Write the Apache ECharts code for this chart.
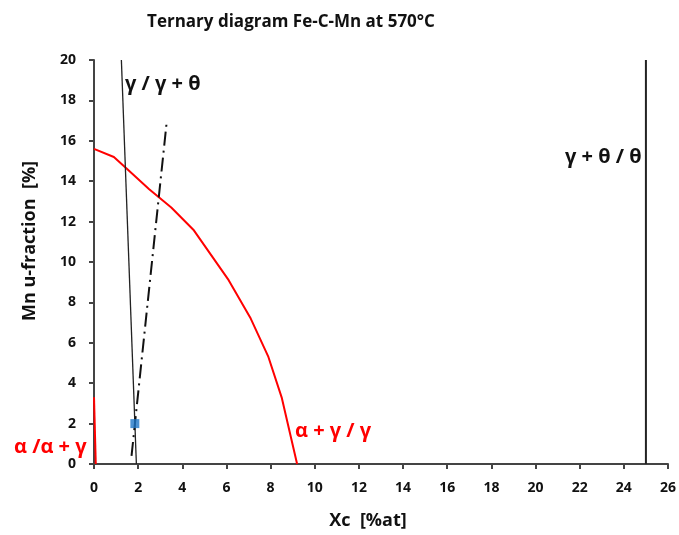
<!DOCTYPE html>
<html><head><meta charset="utf-8">
<script src="https://cdn.jsdelivr.net/npm/echarts@6/dist/echarts.min.js"></script>
<style>html,body{margin:0;padding:0;background:#fff}#c{width:679px;height:535px}</style>
</head><body><div id="c"></div>
<script>
// Data (Xc %at, Mn u-fraction %)
const alphaGammaX = [0, 0.9, 1.5, 2.5, 3.5, 4.5, 6.1, 7.1, 7.9, 8.5, 9.2];
const alphaGammaY = [15.6, 15.2, 14.6, 13.6, 12.7, 11.6, 9.1, 7.2, 5.3, 3.3, 0];
const alphaLimitX = [0, 0.08];
const alphaLimitY = [3.3, 0];
const gammaThetaX = [1.24, 1.92];
const gammaThetaY = [20, 0];
const tieLineX = [1.70, 3.3];
const tieLineY = [0.4, 17];
const thetaX = [25, 25];
const thetaY = [0, 20];
const pointX = [1.85];
const pointY = [2.0];
const xTicks = [0,2,4,6,8,10,12,14,16,18,20,22,24,26];
const yTicks = [0,2,4,6,8,10,12,14,16,18,20];

const zip = (a, b) => a.map((v, i) => [v, b[i]]);
const F = '"Open Sans", sans-serif';
const chart = echarts.init(document.getElementById('c'));
chart.setOption({
  animation: false,
  title: {text: 'Ternary diagram Fe-C-Mn at 570°C', left: 286, top: 9, textAlign: 'center',
    textStyle: {fontFamily: F, fontWeight: 'bold', fontSize: 17, color: '#111'}},
  grid: {left: 94, right: 8, top: 60, bottom: 71},
  xAxis: {type: 'value', min: 0, max: 26, interval: 2,
    axisLine: {lineStyle: {color: '#444', width: 2}},
    axisTick: {show: true, length: 5, lineStyle: {color: '#444', width: 2}},
    axisLabel: {fontFamily: F, fontWeight: 'bold', fontSize: 14, color: '#111', margin: 17,
      formatter: v => xTicks.includes(v) ? String(v) : ''},
    splitLine: {show: false}},
  yAxis: {type: 'value', min: 0, max: 20, interval: 2,
    axisLine: {show: true, lineStyle: {color: '#444', width: 2}},
    axisTick: {show: true, length: 5, lineStyle: {color: '#444', width: 2}},
    axisLabel: {fontFamily: F, fontWeight: 'bold', fontSize: 14, color: '#111', margin: 18,
      formatter: v => yTicks.includes(v) ? String(v) : ''},
    splitLine: {show: false}},
  series: [
    {type: 'line', data: zip(alphaGammaX, alphaGammaY), symbol: 'none',
      lineStyle: {color: '#ff0000', width: 2}},
    {type: 'line', data: zip(alphaLimitX, alphaLimitY), symbol: 'none',
      lineStyle: {color: '#ff0000', width: 2}},
    {type: 'line', data: zip(gammaThetaX, gammaThetaY), symbol: 'none',
      lineStyle: {color: '#222', width: 1.3}},
    {type: 'line', data: zip(tieLineX, tieLineY), symbol: 'none',
      lineStyle: {color: '#111', width: 2, type: [14, 5, 2, 5]}},
    {type: 'line', data: zip(thetaX, thetaY), symbol: 'none',
      lineStyle: {color: '#222', width: 2}},
    {type: 'scatter', data: zip(pointX, pointY), symbol: 'rect', symbolSize: 9,
      itemStyle: {color: '#1f77c8'}, z: 5}
  ],
  graphic: [
    {type: 'text', x: 368, y: 521, style: {text: 'Xc  [%at]', fontFamily: F, fontWeight: 'bold', fontSize: 18, fill: '#111', align: 'center', verticalAlign: 'middle'}},
    {type: 'text', x: 30, y: 241, rotation: Math.PI / 2, style: {text: 'Mn u-fraction  [%]', fontFamily: F, fontWeight: 'bold', fontSize: 18, fill: '#111', align: 'center', verticalAlign: 'middle'}},
    {type: 'text', x: 125, y: 84, style: {text: 'γ / γ + θ', fontFamily: F, fontWeight: 'bold', fontSize: 20, fill: '#111', verticalAlign: 'middle'}},
    {type: 'text', x: 565, y: 157, style: {text: 'γ + θ / θ', fontFamily: F, fontWeight: 'bold', fontSize: 20, fill: '#111', verticalAlign: 'middle'}},
    {type: 'text', x: 295, y: 431, style: {text: 'α + γ / γ', fontFamily: F, fontWeight: 'bold', fontSize: 20, fill: '#ff0000', verticalAlign: 'middle'}},
    {type: 'text', x: 14, y: 447, style: {text: 'α /α + γ', fontFamily: F, fontWeight: 'bold', fontSize: 20, fill: '#ff0000', verticalAlign: 'middle'}}
  ]
});
</script></body></html>
